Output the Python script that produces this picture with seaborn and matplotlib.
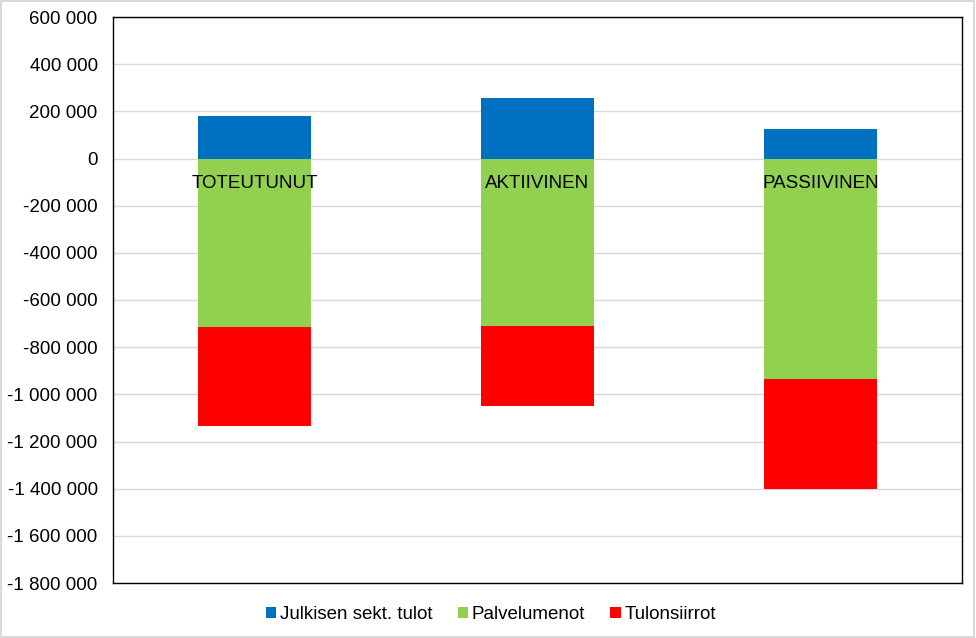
import matplotlib
matplotlib.use('Agg')
import matplotlib.pyplot as plt
import seaborn as sns
from matplotlib.patches import Patch, Rectangle
from matplotlib.ticker import FuncFormatter, MultipleLocator

# Values
categories = ['TOTEUTUNUT', 'AKTIIVINEN', 'PASSIIVINEN']
julkisen_tulot = [182000, 258000, 127000]
palvelumenot = [-715000, -711000, -935000]
tulonsiirrot = [-419000, -339000, -466000]

series_names = ['Julkisen sekt. tulot', 'Palvelumenot', 'Tulonsiirrot']
colors = ['#0070C0', '#92D050', '#FF0000']

sns.set_style('white')
plt.rcParams['font.family'] = ['Liberation Sans', 'DejaVu Sans']
plt.rcParams['text.color'] = 'black'

fig = plt.figure(figsize=(9.76, 6.38), dpi=100)
ax = fig.add_axes([113 / 976, 55 / 638, 849 / 976, 566 / 638])

# negative stack: draw the cumulative total first, then the upper part over it
neg_total = [p + t for p, t in zip(palvelumenot, tulonsiirrot)]
sns.barplot(x=categories, y=neg_total, color=colors[2], width=0.4,
            saturation=1, linewidth=0, ax=ax, zorder=2)
sns.barplot(x=categories, y=palvelumenot, color=colors[1], width=0.4,
            saturation=1, linewidth=0, ax=ax, zorder=3)
sns.barplot(x=categories, y=julkisen_tulot, color=colors[0], width=0.4,
            saturation=1, linewidth=0, ax=ax, zorder=3)

ax.set_ylim(-1800000, 600000)
ax.set_xlim(-0.5, 2.5)
ax.yaxis.set_major_locator(MultipleLocator(200000))
ax.yaxis.set_major_formatter(FuncFormatter(lambda v, p: f'{v:,.0f}'.replace(',', ' ')))
ax.grid(axis='y', color='#d9d9d9', linewidth=1, zorder=0)
ax.set_axisbelow(True)
ax.tick_params(axis='y', length=0, pad=11, labelsize=13.5, colors='black')
ax.set_xticks([])
ax.set_xlabel('')
ax.set_ylabel('')
for s in ax.spines.values():
    s.set_visible(True)
    s.set_color('black')
    s.set_linewidth(1)

# category labels sit just under the zero line
for i, cat in enumerate(categories):
    ax.annotate(cat, (i, 0), xytext=(0, -21), textcoords='offset points',
                ha='center', va='baseline', fontsize=13.5, color='black', zorder=5)

handles = [Patch(facecolor=c, edgecolor='none') for c in colors]
fig.legend(handles, series_names, loc='center', bbox_to_anchor=(0.503, 0.037),
           ncol=3, frameon=False, fontsize=13.5, handlelength=0.55, handleheight=0.55,
           handletextpad=0.2, columnspacing=1.35, labelcolor='black')

# light grey chart border
fig.patches.append(Rectangle((0.001, 0.001), 0.997, 0.997, transform=fig.transFigure,
                             fill=False, edgecolor='#d9d9d9', linewidth=1.5))

fig.savefig('out.png', dpi=100)
